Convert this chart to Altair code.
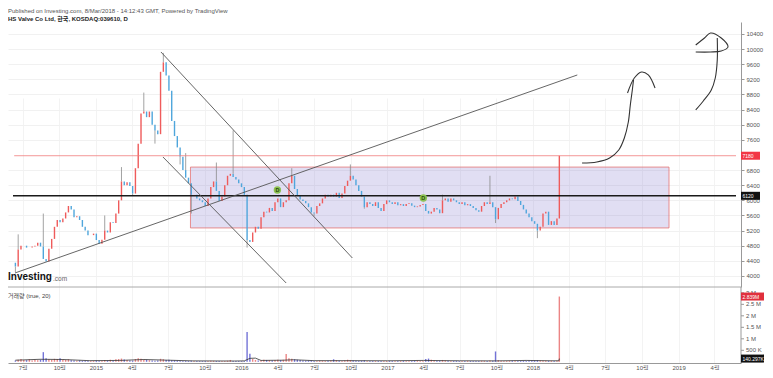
import altair as alt
import pandas as pd

FONT = "Liberation Sans, Noto Sans CJK KR, sans-serif"
W, H, PH = 733, 341, 265
PAD = {"left": 0, "top": 14, "right": 24, "bottom": 7}
UP, DOWN = "#ef5b5b", "#4fa6dc"
VUP, VDOWN = "#e77070", "#5b5bd0"

# ---------------- data ----------------
week_start = "2014-06-13"
first_open = 4350
closes = [
    4250, 4700, 4800, 4800, 4750, 4750, 4780, 4800, 4880, 4780,
    4450, 4380, 4720, 4980, 5300, 5480, 5420, 5520, 5680, 5850,
    5760, 5550, 5580, 5480, 5300, 5200, 5080, 5080, 5120, 4950,
    4850, 4960, 5200, 5150, 5420, 5400, 5650, 6000, 6500, 6400,
    6480, 6380, 6180, 6850, 7500, 8300, 8350, 8200, 8350, 8000,
    7850, 7750, 9400, 9650, 9300, 8900, 8100, 7700, 7400, 7150,
    6800, 6600, 6450, 6150, 6150, 6050, 6000, 5950, 5850, 6050,
    6350, 6500, 6250, 5980, 6100, 6400, 6650, 6700, 6620, 6550,
    6450, 6350, 6150, 4950, 4900, 5150, 5300, 5250, 5550, 5700,
    5680, 5800, 5720, 5950, 6050, 5820, 5950, 6000, 6450, 6650,
    6300, 6120, 6020, 5980, 5920, 5820, 5680, 5650, 5850, 5920,
    6050, 6150, 6100, 6150, 6100, 6200, 6060, 6180, 6380, 6520,
    6650, 6550, 6400, 6250, 6100, 5820, 5950, 5900, 5850, 5950,
    5800, 5720, 5900, 6000, 5950, 5900, 5950, 5870, 5900, 5850,
    5900, 5920, 5860, 5820, 5840, 5880, 5900, 5720, 5650, 5700,
    5800, 5760, 5660, 6000, 6050, 5960, 6050, 6000, 5950, 5900,
    5950, 5870, 5900, 5850, 5800, 5740, 5700, 5850, 5950, 5900,
    5950, 5820, 5500, 5800, 5900, 5950, 6000, 6050, 6030, 6100,
    5980, 5880, 5760, 5650, 5550, 5450, 5380, 5200, 5300, 5650,
    5700, 5350, 5450, 5350, 5520,
]
last_date, last_open, last_close = "2018-03-08", 5520, 7180

wick_hi_week = [1, 10, 32, 38, 46, 53, 61, 72, 78, 99, 120, 153, 170]
wick_hi_val = [5100, 5650, 5600, 6880, 8850, 9900, 7250, 7000, 7850, 6850, 6950, 6150, 6650]
wick_lo_week = [0, 42, 50, 59, 63, 83, 107, 125, 172, 187]
wick_lo_val = [4100, 6120, 7500, 6950, 5650, 4750, 5580, 5780, 5400, 5000]

volumes_k = [
    60, 90, 120, 80, 70, 110, 60, 90, 70, 100,
    420, 150, 110, 90, 130, 120, 160, 100, 80, 110,
    70, 60, 50, 60, 40, 50, 45, 40, 35, 50,
    40, 45, 80, 50, 90, 60, 110, 120, 140, 100,
    80, 60, 50, 120, 150, 130, 100, 90, 70, 60,
    50, 60, 130, 110, 80, 90, 70, 60, 50, 45,
    40, 40, 35, 45, 40, 35, 30, 30, 35, 40,
    45, 40, 35, 30, 35, 40, 45, 80, 40, 35,
    30, 30, 35, 1300, 350, 120, 80, 60, 70, 90,
    80, 70, 60, 80, 90, 70, 90, 340, 150, 130,
    110, 90, 80, 60, 50, 50, 60, 40, 40, 50,
    45, 40, 50, 60, 110, 70, 50, 40, 60, 90,
    80, 60, 50, 40, 45, 60, 40, 35, 30, 35,
    40, 35, 30, 35, 40, 35, 30, 30, 35, 40,
    35, 30, 35, 40, 45, 40, 50, 120, 140, 90,
    60, 50, 45, 80, 60, 45, 40, 35, 40, 35,
    30, 35, 40, 35, 30, 35, 40, 45, 40, 35,
    60, 50, 450, 70, 50, 40, 35, 40, 45, 50,
    40, 35, 40, 45, 50, 60, 55, 70, 60, 50,
    45, 40, 45, 40, 50,
]
last_volume_k = 2839

ma_dates = ["2014-06-13", "2014-08-15", "2014-10-10", "2014-12-15", "2015-03-01",
            "2015-05-01", "2015-07-01", "2015-09-01", "2015-12-15", "2016-01-08",
            "2016-01-22", "2016-02-05", "2016-02-19", "2016-04-15", "2016-05-10",
            "2016-07-01", "2016-10-01", "2017-01-01", "2017-04-01", "2017-07-01",
            "2017-10-01", "2017-12-15", "2018-02-15", "2018-03-07", "2018-03-08"]
ma_vals_k = [70, 110, 100, 50, 60, 100, 70, 40, 35, 40, 150, 160, 60, 70, 90,
             50, 50, 45, 60, 45, 40, 60, 45, 45, 140.297]

# drawings (date, price)
trend_names = ["up", "up", "down1", "down1", "down2", "down2"]
trend_dates = ["2014-06-12", "2018-04-22", "2015-06-13", "2016-10-05", "2015-06-18", "2016-04-22"]
trend_prices = [4079, 9316, 9924, 4475, 7147, 3814]

box_dates = ["2015-08-26", "2018-12-08"]
box_prices = [5270, 6880]

domain_start, domain_end = "2014-06-07", "2019-05-25"
support_price, last_price = 6120, 7180
red_line_start = "2014-06-10"

stroke_names = (["a1"] * 9 + ["a1h"] * 5 + ["a2"] * 6 + ["a2h"] * 8)
stroke_dates = [
    "2018-05-04", "2018-06-10", "2018-07-12", "2018-08-04", "2018-08-18", "2018-08-28",
    "2018-09-02", "2018-09-07", "2018-09-10",
    "2018-08-26", "2018-09-12", "2018-09-30", "2018-10-17", "2018-11-03",
    "2019-02-13", "2019-03-04", "2019-03-24", "2019-04-03", "2019-04-08", "2019-04-08",
    "2019-02-13", "2019-03-07", "2019-03-22", "2019-04-18", "2019-05-05", "2019-04-18",
    "2019-03-22", "2019-02-13",
]
stroke_prices = [
    6988, 7014, 7120, 7332, 7649, 8072, 8522, 8919, 9183,
    8840, 9236, 9395, 9316, 8972,
    8390, 8628, 8919, 9236, 9712, 10294,
    10109, 10294, 10426, 10294, 10056, 9950, 9924, 9924,
]

div_dates = ["2016-03-31", "2017-04-01"]
div_prices = [6274, 6062]

price_ticks = [4000, 4400, 4800, 5200, 5600, 6000, 6400, 6800, 7600, 8000, 8400, 8800, 9200, 9600, 10000, 10400]
vol_ticks = [500000, 1000000, 1500000, 2000000, 2500000, 3000000]
vol_labels = ["500 K", "1 M", "1.5 M", "2 M", "2.5 M", "3 M"]
quarter_ticks = [(2014, 7), (2014, 10)] + [(y, m) for y in range(2015, 2019) for m in (1, 4, 7, 10)] + [(2019, 1), (2019, 4)]

# ---------------- frames ----------------
dates = pd.date_range(week_start, periods=len(closes), freq="7D").strftime("%Y-%m-%d").tolist() + [last_date]
opens = [first_open] + closes[:-1] + [last_open]
cls = closes + [last_close]
dirs = ["up" if c >= o else "down" for o, c in zip(opens, cls)]
candles = pd.DataFrame({"date": dates, "open": opens, "close": cls, "dir": dirs,
                        "vol": [v * 1000 for v in volumes_k + [last_volume_k]], "zero": 0})

wr = []
for i, v in zip(wick_hi_week, wick_hi_val):
    wr.append({"date": dates[i], "a": max(opens[i], cls[i]), "b": v})
for i, v in zip(wick_lo_week, wick_lo_val):
    wr.append({"date": dates[i], "a": min(opens[i], cls[i]), "b": v})
wicks = pd.DataFrame(wr)

ma = pd.DataFrame({"date": ma_dates, "v": [v * 1000 for v in ma_vals_k]})
trends = pd.DataFrame({"name": trend_names, "date": trend_dates, "price": trend_prices,
                       "o": list(range(len(trend_names)))})
box = pd.DataFrame({"d1": [box_dates[0]], "d2": [box_dates[1]], "p1": [box_prices[0]], "p2": [box_prices[1]]})
black_line = pd.DataFrame({"d1": [domain_start], "d2": [domain_end], "p": [support_price]})
red_line = pd.DataFrame({"d1": [red_line_start], "d2": [domain_end], "p": [last_price]})
strokes = pd.DataFrame({"name": stroke_names, "date": stroke_dates, "price": stroke_prices,
                        "o": list(range(len(stroke_names)))})
divs = pd.DataFrame({"date": div_dates, "price": div_prices})

# ---------------- scales ----------------
x_scale = alt.Scale(type="utc", domain=[alt.DateTime(year=2014, month=6, date=7, utc=True),
                                        alt.DateTime(year=2019, month=5, date=25, utc=True)])
x_axis = alt.Axis(
    title=None, values=[alt.DateTime(year=y, month=m, date=1, utc=True) for y, m in quarter_ticks],
    labelExpr="utcmonth(datum.value) == 0 ? '' + utcyear(datum.value) : (utcmonth(datum.value) + 1) + '월'",
    labelFontSize=6, labelColor="#555", labelFont=FONT, tickSize=0,
    domainColor="#999", grid=True, gridColor="#f3f3f3", labelPadding=1,
)
p_scale = alt.Scale(domain=[3708, 10717], range=[PH, 0], zero=False, nice=False)
v_scale = alt.Scale(domain=[-52000, 3254000], range=[H, PH], zero=False, nice=False)


def X(field):
    return alt.X(field, type="temporal", scale=x_scale, axis=x_axis)


def PY(field):
    return alt.Y(field, type="quantitative", scale=p_scale, axis=None)


def VY(field):
    return alt.Y(field, type="quantitative", scale=v_scale, axis=None)


layers = []

# box
layers.append(alt.Chart(box).mark_rect(fill="#8a7fd0", fillOpacity=0.26, stroke="#e57373", strokeWidth=0.8).encode(
    x=X("d1"), x2="d2", y=PY("p1"), y2="p2"))

# candles with the real price axis
layers.append(alt.Chart(wicks).mark_rule(color="#8a8a8a", strokeWidth=0.8).encode(
    x=X("date"), y=PY("a"), y2="b"))
layers.append(alt.Chart(candles).mark_bar(size=1.4).encode(
    x=X("date"),
    y=alt.Y("open:Q", scale=p_scale, axis=alt.Axis(
        orient="right", values=price_ticks, format="d", title=None, labelFontSize=6, labelColor="#555",
        labelFont=FONT, tickSize=3, tickColor="#999", domainColor="#999", grid=True,
        gridColor="#f1f1f1", labelPadding=2)),
    y2="close",
    color=alt.Color("dir:N", scale=alt.Scale(domain=["up", "down"], range=[UP, DOWN]), legend=None)))

# horizontal lines
layers.append(alt.Chart(red_line).mark_rule(color="#f07c7c", strokeWidth=0.8).encode(
    x=X("d1"), x2="d2", y=PY("p")))
layers.append(alt.Chart(black_line).mark_rule(color="#1a1a1a", strokeWidth=1.6).encode(
    x=X("d1"), x2="d2", y=PY("p")))

# trend lines
layers.append(alt.Chart(trends).mark_line(color="#555", strokeWidth=0.9, clip=True).encode(
    x=X("date"), y=PY("price"), detail="name:N", order="o:Q"))

# hand drawn strokes
layers.append(alt.Chart(strokes).mark_line(color="#333", strokeWidth=1.1, interpolate="catmull-rom", clip=True).encode(
    x=X("date"), y=PY("price"), detail="name:N", order="o:Q"))

# dividend markers
layers.append(alt.Chart(divs).mark_circle(size=55, color="#8cc152", opacity=1).encode(x=X("date"), y=PY("price")))
layers.append(alt.Chart(divs).mark_text(text="D", fontSize=5.5, fontWeight="bold", color="#2d4a10", font=FONT).encode(
    x=X("date"), y=PY("price")))

# volume
layers.append(alt.Chart(candles).mark_bar(size=1.4, opacity=0.85).encode(
    x=X("date"), y=VY("vol"), y2="zero",
    color=alt.Color("dir:N", scale=alt.Scale(domain=["up", "down"], range=[VUP, VDOWN]), legend=None)))
layers.append(alt.Chart(ma).mark_line(color="#333", strokeWidth=0.8).encode(x=X("date"), y=VY("v")))

# panel divider and volume axis
frame = pd.DataFrame({"k": [0]})
layers.append(alt.Chart(frame).mark_rule(color="#aaa", strokeWidth=1).encode(
    x=alt.value(0), x2=alt.value(W), y=alt.value(PH)))
layers.append(alt.Chart(frame).mark_rule(color="#999", strokeWidth=1).encode(
    x=alt.value(W), y=alt.value(PH), y2=alt.value(H)))
vt = pd.DataFrame({"v": vol_ticks, "t": vol_labels})
layers.append(alt.Chart(vt).mark_rule(color="#999").encode(x=alt.value(W), x2=alt.value(W + 3), y=VY("v")))
layers.append(alt.Chart(vt).mark_text(align="left", baseline="middle", fontSize=6, color="#555", font=FONT).encode(
    x=alt.value(W + 5), y=VY("v"), text="t:N"))

# value tags
ptag_red = pd.DataFrame({"v": [last_price], "t": ["7180"]})
ptag_black = pd.DataFrame({"v": [support_price], "t": ["6120"]})
vtag_red = pd.DataFrame({"v": [2839000], "t": ["2.839M"]})
vtag_black = pd.DataFrame({"v": [140297], "t": ["140.297K"]})
for df, fill, yenc, tw in [(ptag_red, "#f23645", PY, 19), (ptag_black, "#111", PY, 19),
                           (vtag_red, "#e0303d", VY, 23), (vtag_black, "#111", VY, 23)]:
    layers.append(alt.Chart(df).mark_rect(yOffset=-4, y2Offset=4, color=fill).encode(
        x=alt.value(W), x2=alt.value(W + tw), y=yenc("v"), y2="v"))
    layers.append(alt.Chart(df).mark_text(align="left", baseline="middle", fontSize=5, color="white", font=FONT).encode(
        x=alt.value(W + 1.5), y=yenc("v"), text="t:N"))

# texts
hdr = pd.DataFrame({"t": ["Published on Investing.com, 8/Mar/2018 - 14:12:43 GMT, Powered by TradingView"]})
layers.append(alt.Chart(hdr).mark_text(align="left", baseline="middle", fontSize=6, color="#555", font=FONT).encode(
    x=alt.value(0), y=alt.value(-11), text="t:N"))
sym = pd.DataFrame({"t": ["HS Valve Co Ltd, 한국, KOSDAQ:039610, D"]})
layers.append(alt.Chart(sym).mark_text(align="left", baseline="middle", fontSize=6, fontWeight="bold", color="#222", font=FONT).encode(
    x=alt.value(0), y=alt.value(-3), text="t:N"))
logo = pd.DataFrame({"t": ["Investing"]})
layers.append(alt.Chart(logo).mark_text(align="left", baseline="middle", fontSize=10, fontWeight="bold", color="#111", font=FONT).encode(
    x=alt.value(0), y=alt.value(255), text="t:N"))
logo2 = pd.DataFrame({"t": [".com"]})
layers.append(alt.Chart(logo2).mark_text(align="left", baseline="middle", fontSize=6.5, color="#666", font=FONT).encode(
    x=alt.value(45), y=alt.value(256.5), text="t:N"))
vlab = pd.DataFrame({"t": ["거래량 (true, 20)"]})
layers.append(alt.Chart(vlab).mark_text(align="left", baseline="middle", fontSize=6, color="#444", font=FONT).encode(
    x=alt.value(0), y=alt.value(PH + 9), text="t:N"))

chart = alt.layer(*layers).resolve_scale(y="independent", color="independent").properties(
    width=W, height=H, padding=PAD, autosize=alt.AutoSizeParams(type="none")).configure_view(stroke=None)

chart.save("out.html", embed_options={"renderer": "svg", "actions": False})
